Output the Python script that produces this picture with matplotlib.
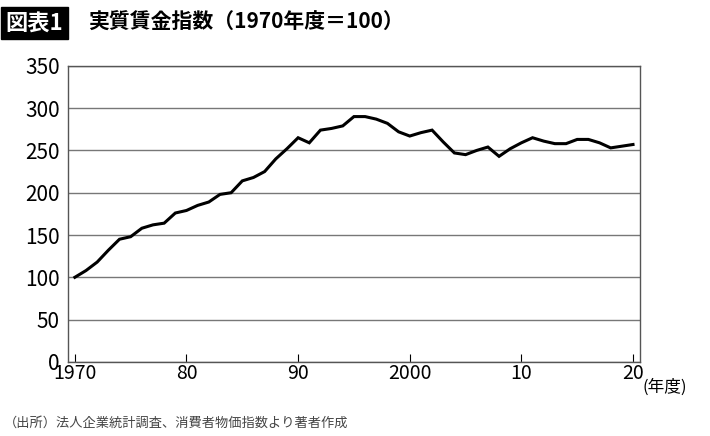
import matplotlib
matplotlib.use('Agg')
import matplotlib.pyplot as plt

plt.rcParams['font.family'] = ['Noto Sans CJK JP', 'DejaVu Sans']

years = list(range(1970, 2021))
wage_index = [100, 108, 118, 132, 145, 148, 158, 162, 164, 176,
              179, 185, 189, 198, 200, 214, 218, 225, 240, 252,
              265, 259, 274, 276, 279, 290, 290, 287, 282, 272,
              267, 271, 274, 260, 247, 245, 250, 254, 243, 252,
              259, 265, 261, 258, 258, 263, 263, 259, 253, 255,
              257]
tick_years = [1970, 1980, 1990, 2000, 2010, 2020]
tick_labels = ['1970', '80', '90', '2000', '10', '20']
y_ticks = [0, 50, 100, 150, 200, 250, 300, 350]

fig = plt.figure(figsize=(7.1, 4.36), dpi=100)
ax = fig.add_axes([0.096, 0.170, 0.805, 0.679])
ax.plot(years, wage_index, color='black', lw=2.2, solid_joinstyle='miter')
ax.set_xlim(1969.4, 2020.6)
ax.set_ylim(0, 350)
ax.set_yticks(y_ticks)
ax.set_xticks(tick_years)
ax.set_xticklabels(tick_labels)
ax.tick_params(axis='x', direction='in', length=6, labelsize=14, pad=1)
ax.tick_params(axis='y', length=0, labelsize=15, pad=6)
ax.yaxis.grid(True, color='#777777', lw=1)
ax.set_axisbelow(True)
for s in ax.spines.values():
    s.set_color('#555555')
    s.set_linewidth(1)

fig.text(0.905, 0.112, '(年度)', fontsize=12, va='center', ha='left')
fig.text(0.008, 0.948, '図表1', fontsize=16, color='white', fontweight='bold', va='center',
         bbox=dict(facecolor='black', edgecolor='black', boxstyle='square,pad=0.2'))
fig.text(0.124, 0.948, '実質賃金指数（1970年度＝100）', fontsize=15, fontweight='bold', va='center')
fig.text(0.005, 0.03, '（出所）法人企業統計調査、消費者物価指数より著者作成', fontsize=9.5, color='#444444', va='center')

fig.savefig('out.png', dpi=100)
